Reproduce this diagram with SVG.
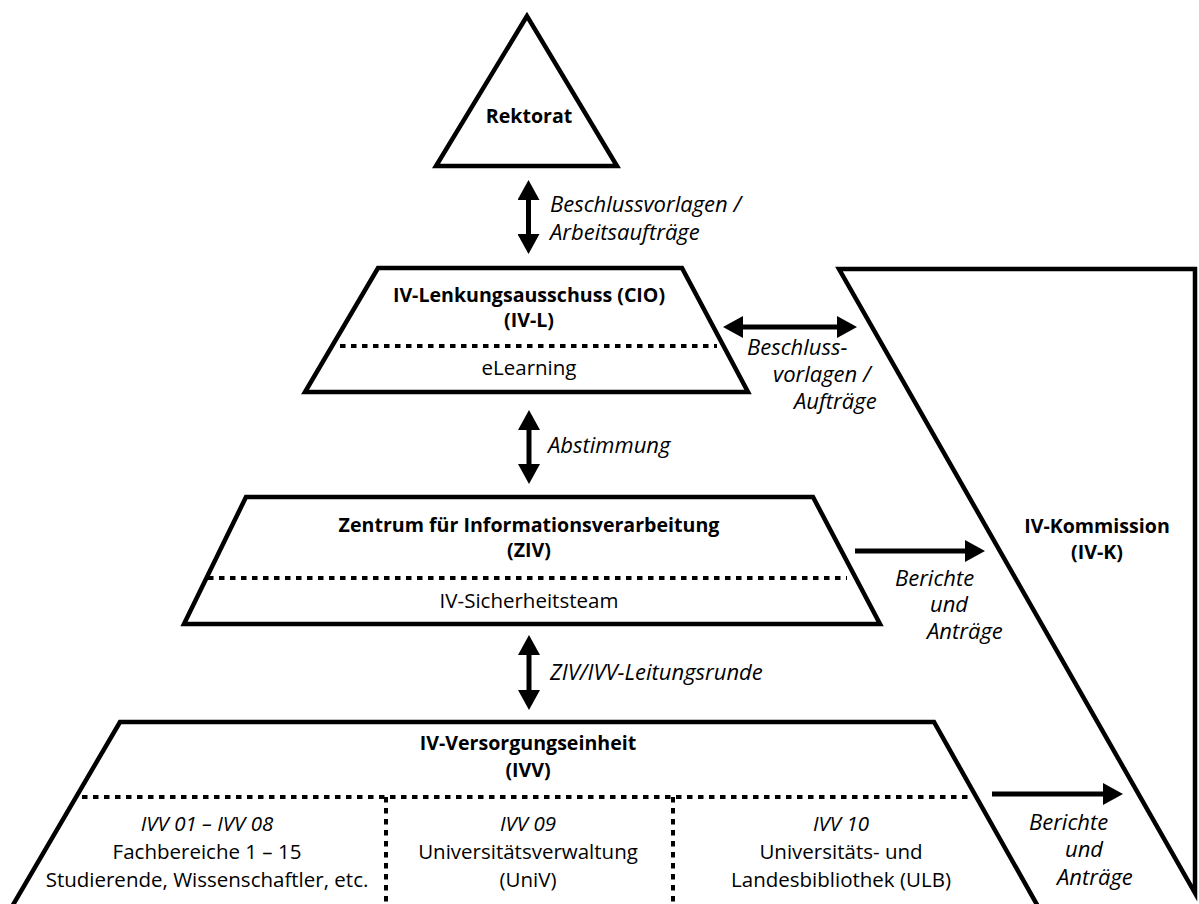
<svg xmlns="http://www.w3.org/2000/svg" width="1199" height="904" viewBox="0 0 1199 904">
  <style>
    .shape { fill: #ffffff; stroke: #000000; stroke-width: 4.5; stroke-linejoin: miter; }
    .dot { fill: none; stroke: #000000; stroke-width: 4; stroke-dasharray: 5.5 5.5; }
    .conn { fill: none; stroke: #000000; stroke-width: 5; }
    .b { font-family: "Open Sans", "Noto Sans", "Liberation Sans", sans-serif; font-weight: bold; font-size: 19.6px; fill: #000; text-anchor: middle; }
    .r { font-family: "Open Sans", "Noto Sans", "Liberation Sans", sans-serif; font-size: 20.5px; fill: #000; text-anchor: middle; }
    .ic { font-family: "Open Sans", "Noto Sans", "Liberation Sans", sans-serif; font-style: italic; font-size: 20.5px; fill: #000; text-anchor: middle; }
    .i { font-family: "Open Sans", "Noto Sans", "Liberation Sans", sans-serif; font-style: italic; font-size: 22px; fill: #000; }
  </style>
  <defs>
    <marker id="arrEnd" markerUnits="userSpaceOnUse" markerWidth="20" markerHeight="22" viewBox="0 0 20 22" refX="0" refY="11" orient="auto">
      <path d="M0,0 L20,11 L0,22 Z" fill="#000"/>
    </marker>
    <marker id="arrStart" markerUnits="userSpaceOnUse" markerWidth="20" markerHeight="22" viewBox="0 0 20 22" refX="20" refY="11" orient="auto">
      <path d="M20,0 L0,11 L20,22 Z" fill="#000"/>
    </marker>
  </defs>

  <g id="rektorat">
    <polygon class="shape" points="527,16 436,166 617,166"/>
    <text class="b" x="529" y="123">Rektorat</text>
  </g>

  <g id="iv-kommission">
    <polygon class="shape" points="839,269 1195,269 1195,893"/>
    <text class="b" x="1097" y="533">IV-Kommission</text>
    <text class="b" x="1097" y="559">(IV-K)</text>
  </g>

  <g id="iv-lenkungsausschuss">
    <polygon class="shape" points="378,268 682,268 748,392 305,392"/>
    <line class="dot" x1="340" y1="346" x2="717" y2="346"/>
    <text class="b" x="529" y="302">IV-Lenkungsausschuss (CIO)</text>
    <text class="b" x="529" y="327">(IV-L)</text>
    <text class="r" x="529" y="375">eLearning</text>
  </g>

  <g id="ziv">
    <polygon class="shape" points="246,497 813,497 880,624 184,624"/>
    <line class="dot" x1="208" y1="578" x2="847" y2="578"/>
    <text class="b" x="529" y="532">Zentrum für Informationsverarbeitung</text>
    <text class="b" x="529" y="557">(ZIV)</text>
    <text class="r" x="529" y="608">IV-Sicherheitsteam</text>
  </g>

  <g id="ivv">
    <polygon class="shape" points="120,722 934,722 1040,910 10,910"/>
    <line class="dot" x1="82" y1="797" x2="973" y2="797"/>
    <line class="dot" x1="386" y1="797" x2="386" y2="904"/>
    <line class="dot" x1="673" y1="797" x2="673" y2="904"/>
    <text class="b" x="528" y="750">IV-Versorgungseinheit</text>
    <text class="b" x="528" y="777">(IVV)</text>
    <text class="ic" x="207" y="831">IVV 01 – IVV 08</text>
    <text class="r" x="207" y="859">Fachbereiche 1 – 15</text>
    <text class="r" x="207" y="887">Studierende, Wissenschaftler, etc.</text>
    <text class="ic" x="528" y="831">IVV 09</text>
    <text class="r" x="528" y="859">Universitätsverwaltung</text>
    <text class="r" x="528" y="887">(UniV)</text>
    <text class="ic" x="841" y="831">IVV 10</text>
    <text class="r" x="841" y="859">Universitäts- und</text>
    <text class="r" x="841" y="887">Landesbibliothek (ULB)</text>
  </g>

  <g id="connectors">
    <line class="conn" x1="528.5" y1="200" x2="528.5" y2="234" marker-start="url(#arrStart)" marker-end="url(#arrEnd)"/>
    <line class="conn" x1="529" y1="430" x2="529" y2="464" marker-start="url(#arrStart)" marker-end="url(#arrEnd)"/>
    <line class="conn" x1="529" y1="655" x2="529" y2="690" marker-start="url(#arrStart)" marker-end="url(#arrEnd)"/>
    <line class="conn" x1="743" y1="327" x2="837" y2="327" marker-start="url(#arrStart)" marker-end="url(#arrEnd)"/>
    <line class="conn" x1="855" y1="551" x2="965" y2="551" marker-end="url(#arrEnd)"/>
    <line class="conn" x1="992" y1="794" x2="1103" y2="794" marker-end="url(#arrEnd)"/>
    <text class="i" x="550" y="212">Beschlussvorlagen /</text>
    <text class="i" x="550" y="240">Arbeitsaufträge</text>
    <text class="i" x="548" y="453">Abstimmung</text>
    <text class="i" x="550" y="680">ZIV/IVV-Leitungsrunde</text>
    <text class="i" x="747" y="355">Beschluss-</text>
    <text class="i" x="773" y="382">vorlagen /</text>
    <text class="i" x="794" y="409">Aufträge</text>
    <text class="i" x="895" y="586">Berichte</text>
    <text class="i" x="930" y="612">und</text>
    <text class="i" x="927" y="639">Anträge</text>
    <text class="i" x="1029" y="830">Berichte</text>
    <text class="i" x="1065" y="857">und</text>
    <text class="i" x="1057" y="885">Anträge</text>
  </g>
</svg>
